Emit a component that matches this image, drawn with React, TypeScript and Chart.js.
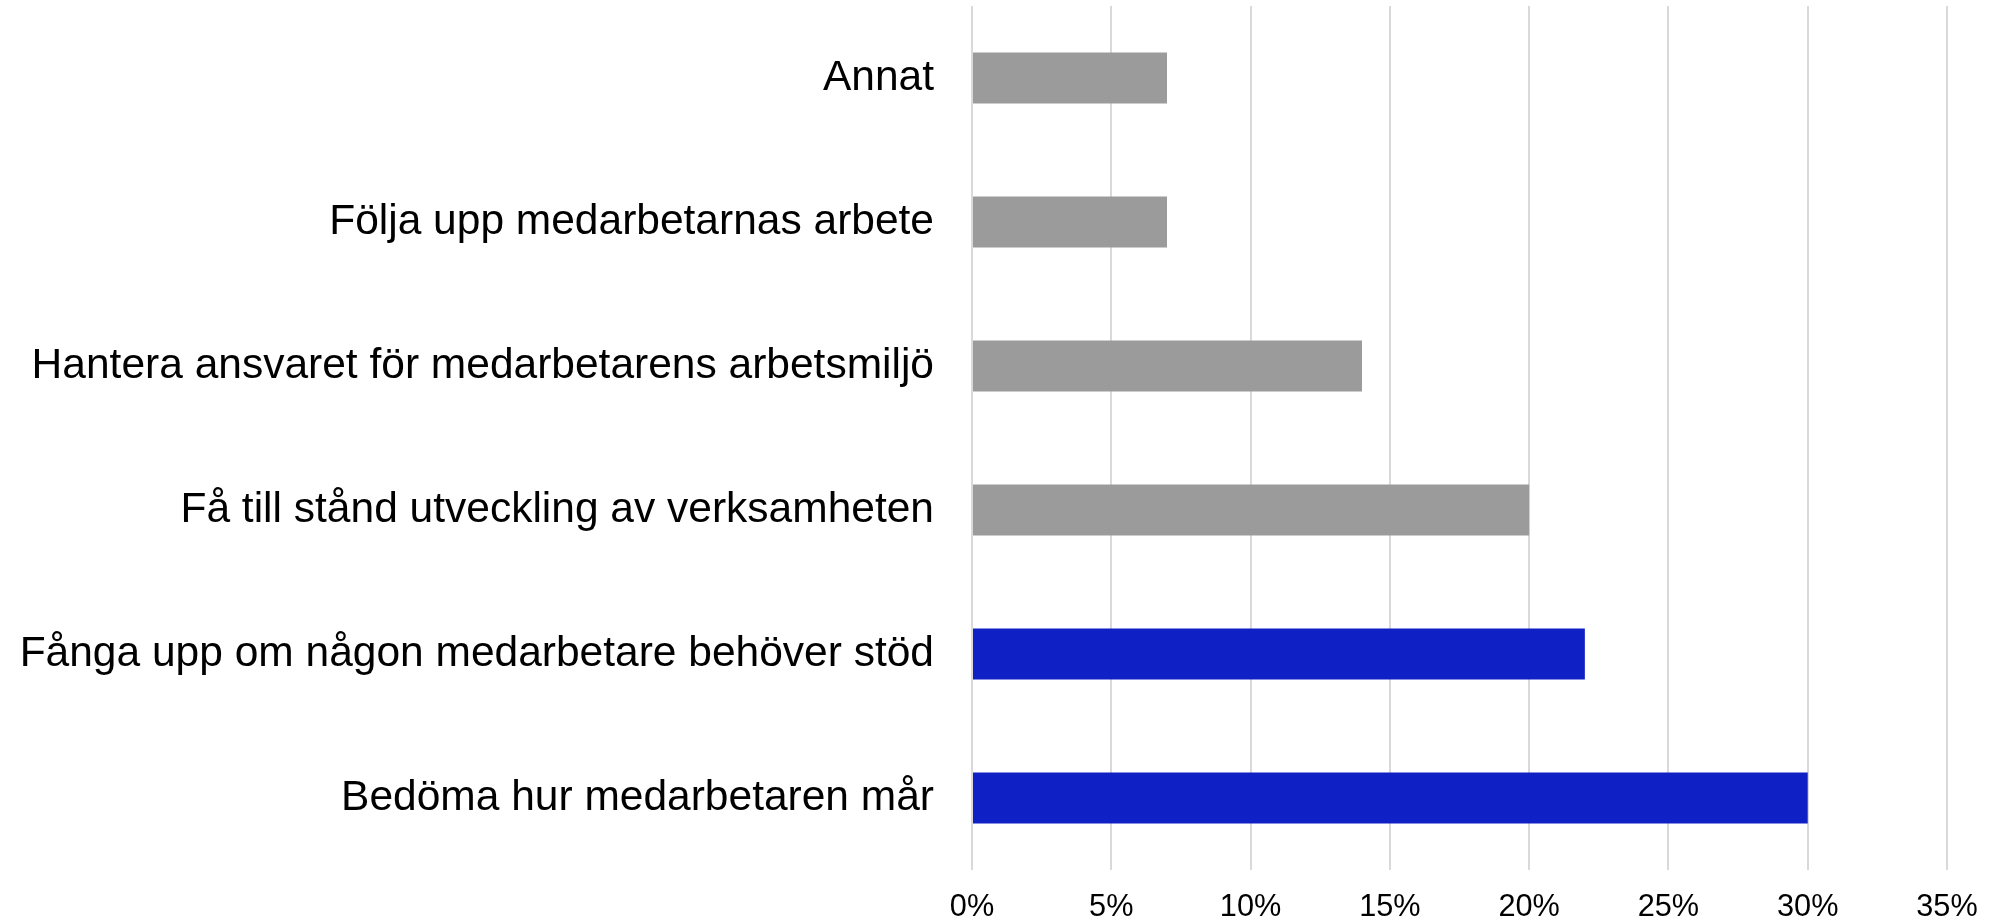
import React, { useEffect, useRef } from "react";
import { Chart, registerables } from "chart.js";

Chart.register(...registerables);

const categories = [
  "Annat",
  "Följa upp medarbetarnas arbete",
  "Hantera ansvaret för medarbetarens arbetsmiljö",
  "Få till stånd utveckling av verksamheten",
  "Fånga upp om någon medarbetare behöver stöd",
  "Bedöma hur medarbetaren mår",
];
const values = [7, 7, 14, 20, 22, 30];
const barColors = ["#9b9b9b", "#9b9b9b", "#9b9b9b", "#9b9b9b", "#0f21c4", "#0f21c4"];
const xMax = 35;
const xStep = 5;

const FONT = "'Liberation Sans', Arial, Helvetica, sans-serif";

export default function App() {
  const ref = useRef<HTMLCanvasElement | null>(null);

  useEffect(() => {
    document.body.style.margin = "0";
    const canvas = ref.current;
    if (!canvas) return;
    const chart = new Chart(canvas, {
      type: "bar",
      data: {
        labels: categories,
        datasets: [
          {
            data: values,
            backgroundColor: barColors,
            borderWidth: 0,
            barPercentage: 0.354,
            categoryPercentage: 1,
          },
        ],
      },
      options: {
        indexAxis: "y",
        animation: false,
        responsive: false,
        maintainAspectRatio: false,
        layout: { padding: { top: 6, right: 48, left: 0, bottom: 0 } },
        plugins: {
          legend: { display: false },
          tooltip: { enabled: false },
          title: { display: false },
        },
        scales: {
          x: {
            min: 0,
            max: xMax,
            grid: { color: "#d9d9d9", lineWidth: 2, drawTicks: false },
            border: { display: false },
            ticks: {
              stepSize: xStep,
              padding: 19,
              color: "#000000",
              font: { family: FONT, size: 30.7 },
              callback: (v: any) => `${v}%`,
            },
            afterFit: (scale: any) => {
              scale.height = 54;
              scale.paddingLeft = 0;
              scale.paddingRight = 0;
            },
          },
          y: {
            grid: { display: false, drawTicks: false },
            border: { display: false },
            ticks: {
              padding: 38,
              color: "#000000",
              font: { family: FONT, size: 42.5 },
            },
            afterFit: (scale: any) => {
              scale.width = 972;
              scale.paddingTop = 0;
              scale.paddingBottom = 0;
            },
          },
        },
      },
    });
    return () => chart.destroy();
  }, []);

  return (
    <div style={{ width: 1995, height: 924, background: "#ffffff" }}>
      <canvas ref={ref} width={1995} height={924} style={{ display: "block" }} />
    </div>
  );
}
